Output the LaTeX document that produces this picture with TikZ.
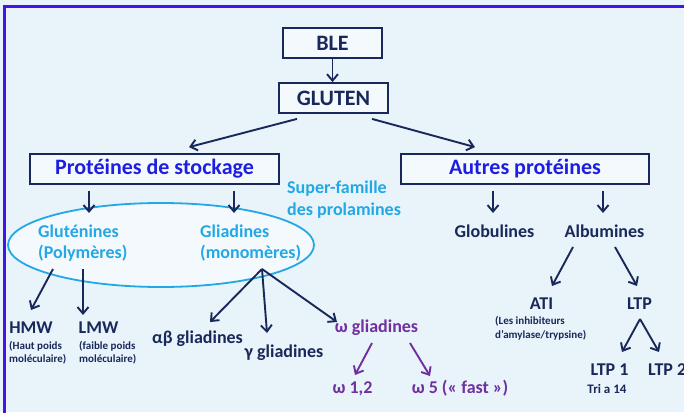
\documentclass[tikz,border=0pt]{standalone}
\usepackage{fontspec}
\setmainfont{Carlito}
\usetikzlibrary{arrows.meta,shapes.geometric}
\definecolor{navy}{RGB}{25,40,90}
\definecolor{bluet}{RGB}{30,30,225}
\definecolor{cyant}{RGB}{35,168,230}
\definecolor{purp}{RGB}{112,48,160}
\definecolor{framec}{RGB}{70,20,230}
\definecolor{bgc}{RGB}{232,243,250}
\definecolor{boxfill}{RGB}{244,249,253}
\tikzset{
  box/.style={draw=navy, line width=1.8pt, fill=boxfill, inner sep=0pt, minimum height=30pt, text=navy, font=\bfseries\fontsize{22}{26}\selectfont},
  lbl/.style={anchor=base, inner sep=0pt, text=navy, font=\bfseries\fontsize{18}{22}\selectfont},
  lblw/.style={lbl, anchor=base west},
  note/.style={anchor=base west, inner sep=0pt, text=navy, font=\bfseries\fontsize{11}{14}\selectfont},
  arr/.style={draw=navy, line width=1.9pt, -{Straight Barb[length=6.5pt,width=11pt]}},
  parr/.style={arr, draw=purp}
}
\begin{document}
\begin{tikzpicture}[x=1pt,y=-1pt]
\useasboundingbox (0,0) rectangle (684,412);
\fill[bgc] (0,0) rectangle (684,412);
\draw[framec, line width=3pt] (4.5,414) -- (4.5,6.5) -- (686,6.5);

% top boxes
\node[box, minimum width=99pt] (ble) at (332.5,43) {BLE};
\node[box, minimum width=109pt] (gluten) at (333.5,98) {GLUTEN};
\node[box, minimum width=249pt, text=bluet] (stock) at (154.5,169) {Protéines de stockage};
\node[box, minimum width=248pt, text=bluet] (autres) at (525,169) {Autres protéines};

% ellipse
\node[ellipse, draw=cyant, line width=1.8pt, fill=boxfill, minimum width=306pt, minimum height=84pt, inner sep=0pt] (prol) at (161,245) {};

\node[lblw, text=cyant] (sf1) at (287,193) {Super-famille};
\node[lblw, text=cyant] (sf2) at (287,215) {des prolamines};

\node[lblw, text=cyant] (glut1) at (38,237) {Gluténines};
\node[lblw, text=cyant] (glut2) at (38,258) {(Polymères)};
\node[lblw, text=cyant] (glia1) at (200,237) {Gliadines};
\node[lblw, text=cyant] (glia2) at (200,258) {(monomères)};

% left leaves
\node[lbl] (hmw) at (31,333) {HMW};
\node[note] (hmwa) at (9,349) {(Haut poids};
\node[note] (hmwb) at (9,362) {moléculaire)};
\node[lbl] (lmw) at (98.5,333) {LMW};
\node[note] (lmwa) at (79,349) {(faible poids};
\node[note] (lmwb) at (79,362) {moléculaire)};

\node[lbl] (ab) at (197.5,343) {αβ gliadines};
\node[lbl] (gam) at (284,357) {γ gliadines};
\node[lbl, text=purp] (om) at (376.5,332) {ω gliadines};
\node[lbl, text=purp] (om12) at (352.5,393) {ω 1,2};
\node[lbl, text=purp] (om5) at (460,393) {ω 5 (« fast »)};

% right leaves
\node[lbl] (glob) at (494.5,237) {Globulines};
\node[lbl] (alb) at (604.5,237) {Albumines};
\node[lbl] (ati) at (541.5,309) {ATI};
\node[note] (atia) at (495,324) {(Les inhibiteurs};
\node[note] (atib) at (495,338) {d’amylase/trypsine)};
\node[lbl] (ltp) at (639.5,309) {LTP};
\node[lbl] (ltp1) at (609.5,375) {LTP 1};
\node[lblw] (ltp2) at (648,375) {LTP 2};
\node[lbl, font=\bfseries\fontsize{13}{16}\selectfont] (tri) at (607,393) {Tri a 14};

% arrows
\draw[arr] (ble.south) -- (ble.south |- gluten.north);
\draw[arr] ([shift={(-36.5,5)}]gluten.south) -- ([shift={(34.5,-6)}]stock.north);
\draw[arr] ([shift={(38.5,5)}]gluten.south) -- ([shift={(-50,-6)}]autres.north);
\draw[arr] ([shift={(-65.5,6)}]stock.south) -- ([shift={(-72,-32)}]prol.center);
\draw[arr] ([shift={(79.5,6)}]stock.south) -- ([shift={(73,-32)}]prol.center);
\draw[arr] ([shift={(-32,6)}]autres.south) -- ([shift={(-1.5,-24)}]glob.base);
\draw[arr] ([shift={(78,6)}]autres.south) -- ([shift={(-1.5,-24)}]alb.base);
\draw[arr] ([shift={(-31.5,10)}]alb.base) -- ([shift={(10.5,-23)}]ati.base);
\draw[arr] ([shift={(10.5,10)}]alb.base) -- ([shift={(-2.5,-23)}]ltp.base);
\draw[arr] ([shift={(0.5,10)}]ltp.base) -- ([shift={(12.5,-23)}]ltp1.base);
\draw[arr] ([shift={(0.5,10)}]ltp.base) -- ([shift={(11,-23)}]ltp2.base west);
\draw[arr] ([shift={(-108,24)}]prol.center) -- ([shift={(0,-23)}]hmw.base);
\draw[arr] ([shift={(-78,24)}]prol.center) -- ([shift={(-15.5,-18)}]lmw.base);
\draw[arr] ([shift={(101,24)}]prol.center) -- ([shift={(12.5,-21)}]ab.base);
\draw[arr] ([shift={(101,24)}]prol.center) -- ([shift={(-17,-24)}]gam.base);
\draw[arr] ([shift={(101,24)}]prol.center) -- ([shift={(-39.5,-10)}]om.base);
\draw[parr] ([shift={(-4.5,11)}]om.base) -- ([shift={(2.5,-18)}]om12.base);
\draw[parr] ([shift={(33.5,11)}]om.base) -- ([shift={(-30,-17)}]om5.base);
\end{tikzpicture}
\end{document}
